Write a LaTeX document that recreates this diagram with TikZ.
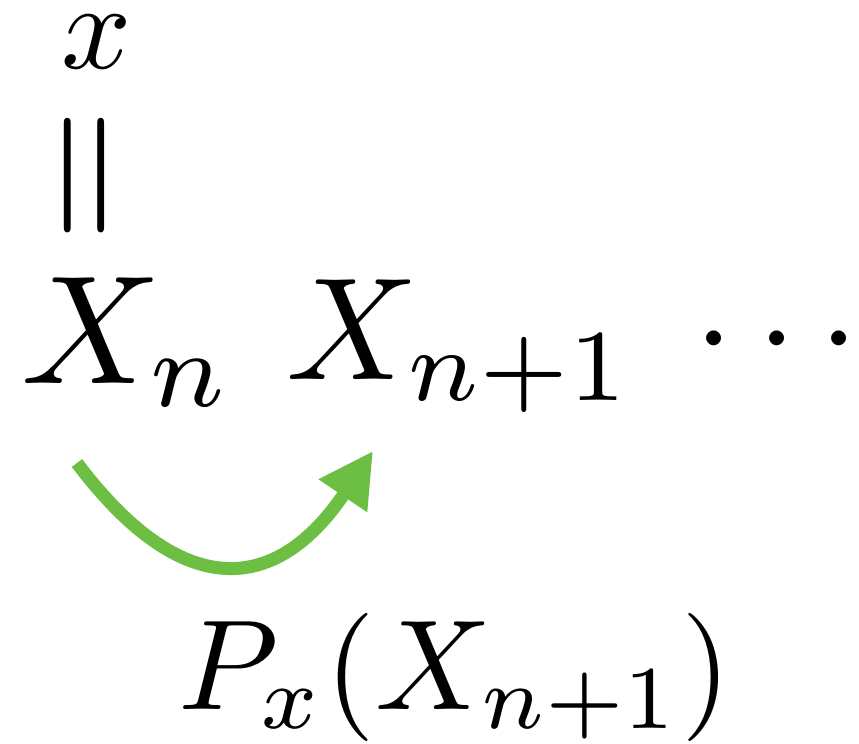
\documentclass[tikz,border=0pt]{standalone}
\usepackage{amsmath}
\usepackage{tikz}
\usetikzlibrary{positioning,arrows.meta,calc}

\definecolor{stepgreen}{HTML}{6CBF43}

\begin{document}
\begin{tikzpicture}[
    big/.style={inner sep=0pt, scale=4.4},
    mid/.style={inner sep=0pt, scale=4.0},
    small/.style={inner sep=0pt, scale=3.5},
    trans/.style={-{Triangle[length=5.4mm, width=5.5mm]}, stepgreen,
                  line width=1.3mm},
  ]

  % ---------- frame: keeps the reference margins ----------
  \useasboundingbox (0,0) rectangle (8.59,-7.44);

  % ---------- starting point x = X_n, written vertically ----------
  \node[small, anchor=base] (start) at (0.965,-0.68) {$x$};
  \node[inner sep=0pt, scale=4.9, rotate=90] (eq) at (0.955,-1.755) {$=$};

  % ---------- the chain ----------
  \node[big, anchor=base west] (Xn) at (0.18,-3.83) {$X_n$};
  \node[big, scale=0.943, anchor=base west] (Xnext) at (2.835,-3.79) {$X_{n+1}$};
  \node[mid, anchor=base west] (dots) at (6.92,-3.73) {$\cdots$};

  % ---------- one step of the kernel ----------
  \draw[trans] ([shift={(0.59,-0.80)}]Xn.base west)
    to[out=-53, in=-124, looseness=1.5] ([shift={(0.895,-0.72)}]Xnext.base west);

  \node[inner sep=0pt, scale=3.65, anchor=base west] (law) at (1.76,-7.09)
    {$P_x(X_{n+1})$};

\end{tikzpicture}
\end{document}
